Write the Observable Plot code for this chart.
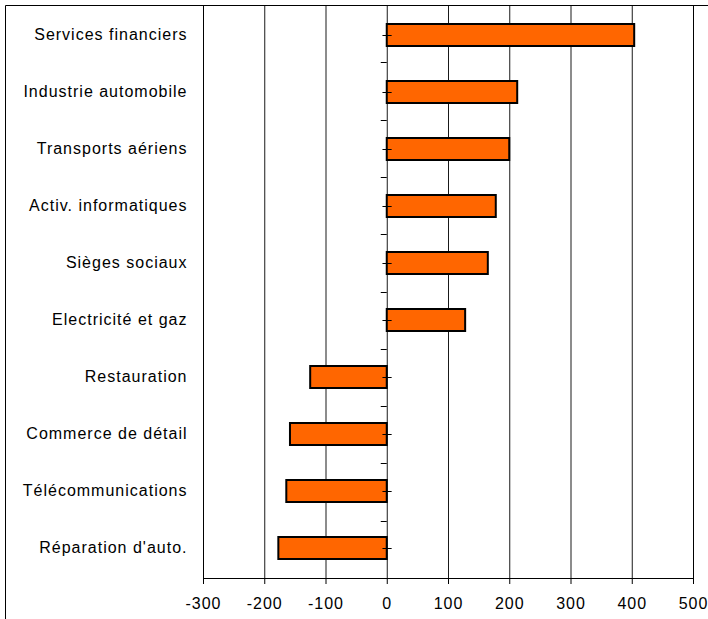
<!DOCTYPE html>
<html><head><meta charset="utf-8">
<script src="https://cdn.jsdelivr.net/npm/d3@7"></script>
<script src="https://cdn.jsdelivr.net/npm/@observablehq/plot@0.6"></script>
<style>
html,body{margin:0;padding:0;background:#fff}
</style></head><body><div id="chart"></div>
<script>
const categories = ["Services financiers","Industrie automobile","Transports aériens","Activ. informatiques","Sièges sociaux","Electricité et gaz","Restauration","Commerce de détail","Télécommunications","Réparation d'auto."];
const values = [404, 213, 200, 178, 165, 128, -125, -158, -164, -177];
const xTicks = [-300, -200, -100, 0, 100, 200, 300, 400, 500];

const data = categories.map((c, i) => ({category: c, value: values[i]}));

const plot = Plot.plot({
  width: 708,
  height: 619,
  marginLeft: 203,
  marginRight: 15,
  marginTop: 5,
  marginBottom: 41,
  style: {fontFamily: "'Liberation Sans', Arial, sans-serif", fontSize: "16px", background: "#fff", color: "#000", letterSpacing: "1px"},
  x: {domain: [-300, 500], ticks: xTicks, label: null},
  y: {domain: categories, paddingInner: 0.62, paddingOuter: 0.31, label: null},
  marks: [
    Plot.gridX(xTicks, {stroke: "#000", strokeOpacity: 0.9}),
    Plot.frame({stroke: "#000"}),
    Plot.barX(data, {x: "value", y: "category", fill: "#FF6600", stroke: "#000", strokeWidth: 2}),
    Plot.ruleY(categories, {y: d => d, x1: -7, x2: 8, stroke: "#000"}),
    Plot.axisX({ticks: xTicks, anchor: "bottom", tickSize: 6, tickPadding: 13, tickFormat: d => String(d), stroke: "#000"}),
    Plot.axisY({anchor: "left", tickSize: 0, tickPadding: 16, dy: -1})
  ]
});

document.getElementById("chart").appendChild(plot);

// category boundary ticks on the zero axis, derived from the scales
const ys = plot.scale("y");
const xs = plot.scale("x");
const [r0, r1] = ys.range;
const step = (r1 - r0) / ys.domain.length;
const x0 = xs.apply(0);
const svg = d3.select(plot);
const g = svg.append("g").attr("stroke", "#000").attr("stroke-width", 1);
for (let k = 0; k <= ys.domain.length; k++) {
  const y = Math.round(r0 + k * step) + 0.5;
  g.append("line").attr("x1", x0 - 6).attr("x2", x0).attr("y1", y).attr("y2", y);
}
// outer chart border (left and top)
svg.append("line").attr("x1", 5.5).attr("x2", 5.5).attr("y1", 5.5).attr("y2", 619).attr("stroke", "#000");
svg.append("line").attr("x1", 5.5).attr("x2", 708).attr("y1", 5.5).attr("y2", 5.5).attr("stroke", "#000");
</script>
</body></html>
